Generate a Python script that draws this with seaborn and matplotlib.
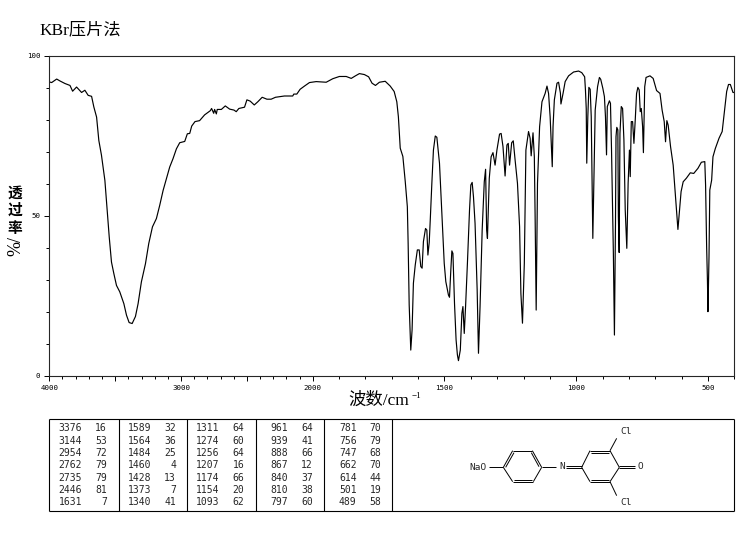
import numpy as np
import matplotlib
matplotlib.use('Agg')
import matplotlib.pyplot as plt
import seaborn as sns

# spectrum, wavenumber (cm-1) against %T
wavenumber = [
    4000, 3982, 3944, 3919, 3881, 3843, 3823, 3793, 3755, 3730, 3705, 3679, 3662, 3641, 3624, 3604,
    3578, 3561, 3545, 3528, 3510, 3490, 3465, 3434, 3414, 3394, 3371, 3346, 3326, 3301, 3270, 3245,
    3217, 3187, 3162, 3136, 3111, 3086, 3061, 3035, 3010, 2972, 2952, 2934, 2919, 2894, 2859, 2821,
    2778, 2768, 2752, 2745, 2732, 2725, 2694, 2664, 2631, 2598, 2581, 2561, 2518, 2500, 2475, 2444,
    2417, 2384, 2348, 2316, 2283, 2215, 2152, 2144, 2121, 2096, 2063, 2025, 1987, 1968, 1949, 1924,
    1899, 1873, 1854, 1838, 1823, 1804, 1788, 1775, 1762, 1747,
    1725, 1706, 1691, 1681, 1675, 1668, 1658, 1649, 1641, 1638, 1634, 1628, 1623, 1618, 1611, 1603,
    1596, 1590, 1585, 1580, 1572, 1567, 1563, 1558, 1554, 1548, 1542, 1535, 1529, 1519, 1510, 1501,
    1495, 1485, 1481, 1476, 1472, 1468, 1462, 1456, 1451, 1447, 1440, 1434, 1430, 1425, 1420, 1413,
    1405, 1400, 1395, 1390, 1384, 1376, 1371, 1365, 1357, 1349, 1344, 1340, 1337, 1330, 1323, 1316,
    1308, 1301, 1291, 1285, 1278, 1270, 1263, 1258, 1253, 1245, 1239, 1232, 1223, 1215, 1210, 1204,
    1197, 1191, 1181, 1175, 1171, 1164, 1159, 1156, 1152, 1147, 1139, 1130, 1118, 1111, 1105, 1099,
    1091, 1088, 1083, 1073, 1067, 1060, 1058, 1050, 1042, 1029, 1010, 991, 979, 968, 965, 962,
    960, 956, 952, 947, 943, 940, 937, 933, 928, 919, 912, 907, 899, 893, 889, 885,
    882, 874, 870, 866, 863, 859, 855, 851, 849, 846, 842, 840, 837, 834, 829, 824,
    819, 814, 808, 803, 798, 795, 791, 786, 781, 776, 771, 766, 761, 757, 753, 748,
    745, 740, 735, 720, 708, 695, 682, 674, 666, 661, 656, 651, 642, 632, 623, 618,
    614, 609, 602, 594, 582, 567, 554, 538, 525, 512, 509, 505, 502, 500, 496, 493,
    486, 481, 472, 458, 446, 437, 429, 422, 415, 405, 400,
]
transmittance = [
    91.9, 91.7, 92.8, 92.2, 91.4, 90.8, 89.0, 90.3, 88.6, 89.3, 87.7, 87.4, 84.1, 80.9, 73.6, 69.0,
    61.1, 51.8, 43.4, 35.6, 32.0, 28.3, 26.3, 22.6, 19.0, 16.7, 16.4, 18.6, 22.6, 29.4, 35.1, 41.4,
    46.6, 49.2, 53.3, 58.0, 61.7, 65.3, 67.9, 71.0, 72.9, 73.3, 75.7, 75.8, 78.1, 79.5, 79.8, 81.6,
    82.9, 83.6, 82.1, 83.3, 81.9, 83.3, 83.3, 84.4, 83.4, 83.1, 82.6, 83.6, 84.0, 86.3, 85.9, 84.7,
    85.7, 87.1, 86.5, 86.5, 87.1, 87.5, 87.5, 88.1, 88.1, 89.6, 90.6, 91.7, 92.0, 91.9, 91.8, 92.9,
    93.6, 93.6, 93.0, 93.8, 94.5, 94.2, 93.5, 91.5, 90.8, 91.8,
    92.1, 90.6, 88.9, 85.7, 81.0, 71.2, 68.6, 60.8, 52.9, 41.5, 22.2, 8.1, 14.4, 29.0, 34.7, 39.4,
    39.4, 34.2, 33.7, 42.0, 46.1, 45.6, 37.8, 41.7, 48.8, 60.2, 70.6, 75.0, 74.6, 66.5, 50.8, 35.2,
    29.5, 25.3, 24.6, 33.1, 39.1, 38.3, 22.7, 11.3, 6.6, 4.8, 8.1, 19.6, 21.7, 13.3, 21.7, 35.2,
    51.9, 59.7, 60.5, 56.0, 47.7, 26.9, 7.1, 21.7, 45.6, 60.7, 64.6, 45.6, 43.0, 61.8, 68.5, 69.8,
    65.9, 70.6, 75.6, 75.8, 71.7, 62.5, 72.2, 72.7, 65.9, 72.9, 73.5, 67.5, 60.2, 46.7, 25.8, 16.5,
    35.2, 70.6, 76.4, 74.3, 68.8, 76.0, 68.5, 49.8, 20.6, 60.2, 77.9, 85.7, 88.3, 90.6, 88.3, 81.0,
    65.4, 77.9, 86.3, 91.5, 91.8, 88.4, 85.0, 88.3, 92.0, 93.8, 95.0, 95.3, 94.8, 93.5, 89.4, 83.6,
    66.5, 81.0, 90.2, 89.6, 81.0, 60.7, 43.0, 60.2, 83.1, 90.4, 93.3, 92.7, 89.9, 87.3, 81.0, 69.1,
    84.2, 86.0, 85.2, 70.6, 57.1, 38.3, 12.8, 47.7, 74.8, 77.7, 76.9, 49.8, 38.6, 75.8, 84.2, 83.6,
    73.8, 51.9, 39.9, 60.2, 70.6, 62.3, 79.5, 79.5, 72.7, 80.0, 88.3, 90.2, 89.4, 82.6, 83.6, 77.9,
    69.8, 90.4, 93.3, 93.8, 93.0, 89.2, 88.3, 83.1, 79.5, 73.2, 79.8, 78.4, 71.7, 65.9, 56.0, 50.8,
    45.8, 50.8, 57.6, 60.7, 61.8, 63.5, 63.3, 64.9, 66.8, 67.0, 59.7, 40.4, 30.0, 20.1, 37.3, 58.1,
    61.2, 68.5, 71.1, 74.3, 76.4, 83.1, 88.9, 91.1, 91.1, 88.6, 88.6,
]

# peak table under the plot, one list per column
peak_wn = [
    [3376, 3144, 2954, 2762, 2735, 2446, 1631],
    [1589, 1564, 1484, 1460, 1428, 1373, 1340],
    [1311, 1274, 1256, 1207, 1174, 1154, 1093],
    [961, 939, 888, 867, 840, 810, 797],
    [781, 756, 747, 662, 614, 501, 489],
]
peak_t = [
    [16, 53, 72, 79, 79, 81, 7],
    [32, 36, 25, 4, 13, 7, 41],
    [64, 60, 64, 16, 66, 20, 62],
    [64, 41, 66, 12, 37, 38, 60],
    [70, 79, 68, 70, 44, 19, 58],
]
x_major = [4000, 3500, 3000, 2500, 2000, 1500, 1000, 500]
x_labels = ['4000', '', '3000', '', '2000', '1500', '1000', '500']
y_major = [0, 50, 100]

sns.set_style('ticks')
plt.rcParams['font.family'] = ['Liberation Serif', 'Noto Sans CJK SC']
plt.rcParams['axes.linewidth'] = 0.8
plt.rcParams['xtick.color'] = 'black'
plt.rcParams['ytick.color'] = 'black'

W, H = 743, 539
fig = plt.figure(figsize=(W / 100, H / 100), dpi=100)
ax = fig.add_axes([49.3 / W, 1 - 376 / H, 685 / W, 320 / H])


def squeeze(x):
    # above 2000 cm-1 the axis runs at half scale
    x = np.asarray(x, dtype=float)
    return np.where(x > 2000, 2000 + (x - 2000) / 2, x)


def unsqueeze(x):
    x = np.asarray(x, dtype=float)
    return np.where(x > 2000, 2000 + (x - 2000) * 2, x)


ax.set_xscale('function', functions=(squeeze, unsqueeze))
sns.lineplot(x=wavenumber, y=transmittance, sort=False, estimator=None,
             color='black', linewidth=0.85, ax=ax)
ax.set_xlim(4000, 400)
ax.set_ylim(0, 100)
ax.set_xticks(x_major)
ax.set_xticklabels(x_labels)
ax.xaxis.remove_overlapping_locs = False
ax.xaxis.set_minor_locator(matplotlib.ticker.FixedLocator(np.arange(400, 4000, 100)))
ax.xaxis.set_minor_formatter(matplotlib.ticker.NullFormatter())
ax.set_yticks(y_major)
ax.set_yticks(np.arange(10, 100, 10), minor=True)
ax.tick_params(which='major', length=3.6, width=0.7, pad=3)
ax.tick_params(axis='x', which='minor', bottom=True, length=2.0, width=0.7)
ax.tick_params(axis='y', which='minor', left=True, length=2.2, width=0.7)
for lab in ax.get_xticklabels() + ax.get_yticklabels():
    lab.set_family('DejaVu Sans Mono')
    lab.set_fontsize(5.4)
for side in ['top', 'right']:
    ax.spines[side].set_visible(True)

# overlay in image pixels for the labels, table and structure
ov = fig.add_axes([0, 0, 1, 1], facecolor='none')
ov.set_xlim(0, W)
ov.set_ylim(H, 0)
ov.axis('off')


def seg(x0, y0, x1, y1, lw=0.8):
    ov.plot([x0, x1], [y0, y1], color='black', lw=lw, solid_capstyle='butt')


ov.text(39, 30, 'KBr压片法', fontsize=12.4, va='center', ha='left', color='black')
for ch, yy in zip('透过率', [192.5, 210, 227.5]):
    ov.text(15, yy, ch, fontsize=10.6, ha='center', va='center',
            family=['Noto Sans CJK SC'], fontweight='bold', color='black')
ov.text(16, 246, '%/', fontsize=13, rotation=90, ha='center', va='center', color='black')
ov.text(348, 401, '波数/cm', fontsize=12.5, ha='left', va='center', color='black')
ov.text(412, 396, '−1', fontsize=6.5, ha='left', va='center', color='black')

# peak table
seg(49, 419, 734, 419)
seg(49, 511, 734, 511)
for xx in [49, 118.5, 186.5, 255.5, 323.5, 392, 734]:
    seg(xx, 419, xx, 511)
row_y = [428.3, 440.7, 453.3, 465.3, 477.7, 490, 502.3]
col_x = [82, 151, 219.5, 288, 356.5]
for cx, wns, ts in zip(col_x, peak_wn, peak_t):
    for yy, a, b in zip(row_y, wns, ts):
        ov.text(cx, yy, str(a), family='DejaVu Sans Mono', fontsize=7, ha='right', va='center')
        ov.text(cx + 25, yy, str(b), family='DejaVu Sans Mono', fontsize=7, ha='right', va='center')

# structure, ring and bond points in crop pixels
ox, oy = 390, 410
bonds = [
    (340, 172, 368, 122), (368, 122, 427, 122), (427, 122, 455, 172), (455, 172, 430, 215),
    (430, 215, 368, 215), (368, 215, 340, 172), (347, 172, 372, 128), (424, 128, 447, 170),
    (372, 209, 427, 209), (296, 172, 340, 172), (455, 172, 497, 172),
    (527, 169, 575, 169), (527, 175, 575, 175),
    (575, 172, 600, 122), (600, 122, 660, 122), (660, 122, 688, 172), (688, 172, 660, 215),
    (660, 215, 600, 215), (600, 215, 575, 172), (603, 128, 657, 128), (603, 209, 657, 209),
    (688, 169, 735, 169), (688, 175, 735, 175), (660, 122, 680, 85), (660, 215, 680, 257),
]
for b in bonds:
    seg(ox + b[0] / 3, oy + b[1] / 3, ox + b[2] / 3, oy + b[3] / 3, lw=0.7)
for txt, zx, zy in [('NaO', 265, 171), ('N', 517, 170), ('O', 752, 170), ('Cl', 707, 65), ('Cl', 707, 277)]:
    ov.text(ox + zx / 3, oy + zy / 3, txt, family='DejaVu Sans Mono', fontsize=6.8, ha='center', va='center')

fig.savefig('out.png', dpi=100, facecolor='white')
